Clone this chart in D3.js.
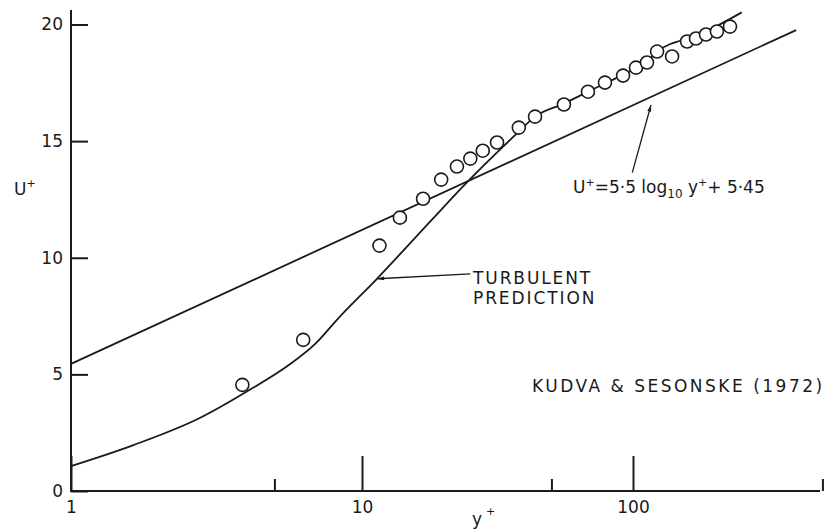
<!DOCTYPE html>
<html lang="en">
<head>
<meta charset="UTF-8">
<title>U+ vs y+ - Kudva &amp; Sesonske (1972)</title>
<script src="https://d3js.org/d3.v7.min.js"></script>
<style>
  body { margin: 0; background: #fff; }
  svg { display: block; font-family: "DejaVu Sans", sans-serif; fill: #1a1a1a; }
  .axis-line { stroke: #1a1a1a; stroke-width: 2; fill: none; }
  .axis .tick line { stroke: #1a1a1a; stroke-width: 2; }
  .axis .tick text { font-size: 17px; fill: #1a1a1a; font-family: "DejaVu Sans", sans-serif; }
  .curve { fill: none; stroke: #1a1a1a; stroke-width: 1.8; }
  .pt { fill: #fff; stroke: #1a1a1a; stroke-width: 1.6; }
  .note { font-size: 17px; fill: #1a1a1a; }
  .leader { stroke: #1a1a1a; stroke-width: 1.3; fill: none; }
</style>
</head>
<body>
<div id="chart"></div>
<script>
// measured points, Kudva & Sesonske (1972)
const dataY = [3.88, 6.28, 11.6, 13.8, 16.8, 19.6, 22.4, 25.1, 27.9, 31.5, 37.9, 43.5, 55.6,
               68.2, 78.8, 91.9, 102.6, 112.6, 122.7, 139.4, 158.3, 170.8, 185.9, 204, 228];
const dataU = [4.55, 6.48, 10.52, 11.72, 12.53, 13.35, 13.91, 14.25, 14.59, 14.94, 15.58, 16.05, 16.57,
               17.12, 17.51, 17.81, 18.15, 18.37, 18.84, 18.63, 19.27, 19.40, 19.57, 19.70, 19.91];

// turbulent prediction curve
const predY = [1, 1.64, 2.77, 4.10, 5.62, 6.96, 8.20, 11.4, 18.3, 23.6, 37.3, 43.5,
               55.6, 68.2, 91.9, 112.6, 122.7, 176.6, 252];
const predU = [1.07, 1.97, 3.13, 4.33, 5.41, 6.35, 7.34, 9.12, 11.69, 13.06, 15.33, 16.05,
               16.61, 17.12, 17.85, 18.41, 18.84, 19.57, 20.52];

// log law U+ = 5.5 log10 y+ + 5.45
const lawSlope = 5.5, lawConst = 5.45;
const lawExtent = [1, 400];

const yTicks = [0, 5, 10, 15, 20];
const xMajor = [1, 10, 100];
const xMinor = [5, 50, 500];

const width = 826, height = 532;

const svg = d3.select('#chart').append('svg')
    .attr('width', width)
    .attr('height', height);

// scanned paper: decades are not quite equal, so a piecewise log scale
const x = d3.scaleLog()
    .domain([1, 10, 100, 1000])
    .range([71, 362, 633, 904]);
const y = d3.scaleLinear()
    .domain([0, 20])
    .range([491, 24.5]);

// axes
svg.append('line').attr('class', 'axis-line')
    .attr('x1', x(1)).attr('x2', x(1))
    .attr('y1', y(0) + 1).attr('y2', y(20.62));
svg.append('line').attr('class', 'axis-line')
    .attr('x1', x(1) - 1).attr('x2', x(490))
    .attr('y1', y(0)).attr('y2', y(0));

const yAxis = svg.append('g').attr('class', 'axis')
    .attr('transform', `translate(${x(1)},0)`)
    .call(d3.axisLeft(y).tickValues(yTicks).tickSize(-17).tickSizeOuter(0).tickPadding(8));
yAxis.select('.domain').remove();

const xAxis = svg.append('g').attr('class', 'axis')
    .attr('transform', `translate(0,${y(0)})`)
    .call(d3.axisBottom(x).tickValues(xMajor).tickFormat(d3.format('d'))
        .tickSize(-35).tickSizeOuter(0).tickPadding(10));
xAxis.select('.domain').remove();

const xAxisMinor = svg.append('g').attr('class', 'axis')
    .attr('transform', `translate(0,${y(0)})`)
    .call(d3.axisBottom(x).tickValues(xMinor).tickFormat('')
        .tickSize(-12).tickSizeOuter(0));
xAxisMinor.select('.domain').remove();

// axis titles
const uLab = svg.append('text').attr('class', 'note').attr('x', 14).attr('y', 195);
uLab.append('tspan').text('U');
uLab.append('tspan').attr('dy', -8).attr('font-size', 11).text('+');

const yLab = svg.append('text').attr('class', 'note').attr('x', 472).attr('y', 525);
yLab.append('tspan').text('y');
yLab.append('tspan').attr('dy', -10).attr('dx', 4).attr('font-size', 11).text('+');

// log law line
const lawData = lawExtent.map(v => [v, lawSlope * Math.log10(v) + lawConst]);
svg.append('path').attr('class', 'curve')
    .attr('d', d3.line().x(d => x(d[0])).y(d => y(d[1]))(lawData));

// turbulent prediction
const predData = predY.map((v, i) => [v, predU[i]]);
svg.append('path').attr('class', 'curve')
    .attr('d', d3.line().curve(d3.curveMonotoneX).x(d => x(d[0])).y(d => y(d[1]))(predData));

// measured points
svg.selectAll('.pt')
    .data(dataY.map((v, i) => [v, dataU[i]]))
    .join('circle')
    .attr('class', 'pt')
    .attr('cx', d => x(d[0]))
    .attr('cy', d => y(d[1]))
    .attr('r', 6.5);

// arrowhead
svg.append('defs').append('marker')
    .attr('id', 'arrow')
    .attr('viewBox', '0 0 10 6')
    .attr('refX', 10).attr('refY', 3)
    .attr('markerWidth', 12).attr('markerHeight', 4)
    .attr('markerUnits', 'userSpaceOnUse')
    .attr('orient', 'auto')
    .append('path').attr('d', 'M0,0 L10,3 L0,6 Z').attr('fill', '#1a1a1a');

// log-law label
svg.append('line').attr('class', 'leader')
    .attr('x1', x(99.4)).attr('y1', y(13.65))
    .attr('x2', x(116.5)).attr('y2', y(16.55))
    .attr('marker-end', 'url(#arrow)');

const law = svg.append('text').attr('class', 'note').attr('x', 573).attr('y', 193)
    .attr('font-size', 16);
law.append('tspan').text('U');
law.append('tspan').attr('dy', -7).attr('font-size', 11).text('+');
law.append('tspan').attr('dy', 7).text('=5·5 log');
law.append('tspan').attr('dy', 5).attr('font-size', 12).text('10');
law.append('tspan').attr('dy', -5).text(' y');
law.append('tspan').attr('dy', -7).attr('font-size', 11).text('+');
law.append('tspan').attr('dy', 7).text('+ 5·45');

// turbulent prediction label
svg.append('line').attr('class', 'leader')
    .attr('x1', x(25.1)).attr('y1', y(9.31))
    .attr('x2', x(11.4)).attr('y2', y(9.1))
    .attr('marker-end', 'url(#arrow)');

svg.append('text').attr('class', 'note')
    .attr('x', 473).attr('y', 284)
    .attr('font-size', 16)
    .attr('letter-spacing', 1.9)
    .text('TURBULENT');
svg.append('text').attr('class', 'note')
    .attr('x', 473).attr('y', 304)
    .attr('font-size', 16)
    .attr('letter-spacing', 1.9)
    .text('PREDICTION');

// source
svg.append('text').attr('class', 'note')
    .attr('x', 532).attr('y', 392)
    .attr('font-size', 18)
    .attr('letter-spacing', 2.5)
    .text('KUDVA & SESONSKE (1972)');
</script>
</body>
</html>
